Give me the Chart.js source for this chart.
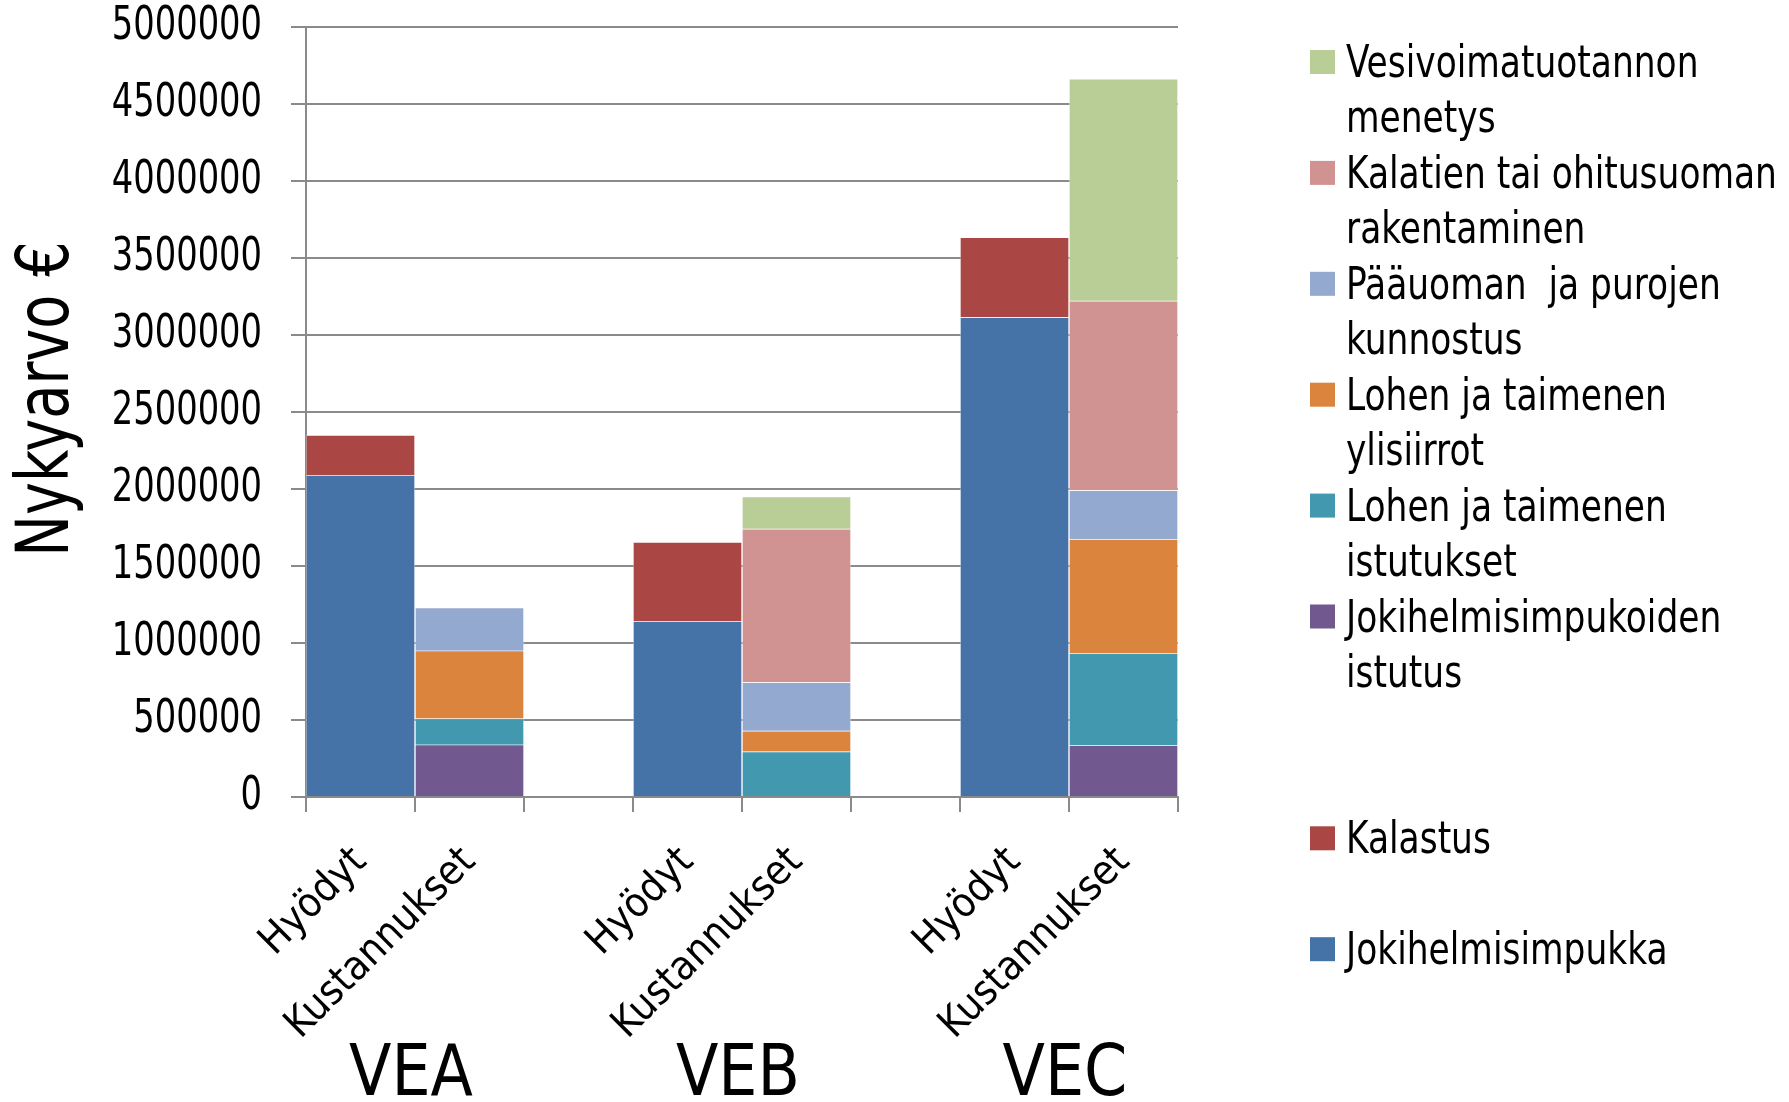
<!DOCTYPE html>
<html>
<head>
<meta charset="utf-8">
<script src="https://cdn.jsdelivr.net/npm/chart.js@4.4.0/dist/chart.umd.min.js"></script>
<style>
  html, body { margin: 0; padding: 0; background: #fff; }
  canvas { display: block; }
</style>
</head>
<body>
<canvas id="myChart" width="1789" height="1102"></canvas>
<script>
// categories: two bars per alternative, empty slot between the groups
const categories = ['Hyödyt', 'Kustannukset', '', 'Hyödyt', 'Kustannukset', '', 'Hyödyt', 'Kustannukset'];
const groups = ['VEA', 'VEB', 'VEC'];
const groupStart = [0, 3, 6];

const yMax = 5000000;
const yStep = 500000;
const yTitle = 'Nykyarvo €';

// series, bottom of the stack first
const jokihelmisimpukka = [2090000, null, null, 1140000, null, null, 3115000, null];
const kalastus          = [260000, null, null, 515000, null, null, 520000, null];
const jokihelmiIstutus  = [null, 340000, null, null, null, null, null, 335000];
const lohiIstutukset    = [null, 170000, null, null, 295000, null, null, 600000];
const lohiYlisiirrot    = [null, 440000, null, null, 135000, null, null, 740000];
const kunnostus         = [null, 280000, null, null, 315000, null, null, 317000];
const kalatie           = [null, null, null, null, 997000, null, null, 1230000];
const vesivoima         = [null, null, null, null, 208000, null, null, 1442000];

const seriesNames = [
    ['Jokihelmisimpukka'],
    ['Kalastus'],
    ['Jokihelmisimpukoiden', 'istutus'],
    ['Lohen ja taimenen', 'istutukset'],
    ['Lohen ja taimenen', 'ylisiirrot'],
    ['Pääuoman  ja purojen', 'kunnostus'],
    ['Kalatien tai ohitusuoman', 'rakentaminen'],
    ['Vesivoimatuotannon', 'menetys']
];
const seriesValues = [jokihelmisimpukka, kalastus, jokihelmiIstutus, lohiIstutukset,
                      lohiYlisiirrot, kunnostus, kalatie, vesivoima];
const seriesColors = ['#4572A7', '#AA4643', '#71588F', '#4198AF',
                      '#DB843D', '#93A9CF', '#D19392', '#B9CD96'];

const FONT = '"Liberation Sans Narrow", "Arial Narrow", "DejaVu Sans Condensed", sans-serif';
const GRID = '#8a8a8a';

Chart.defaults.font.family = FONT;
Chart.defaults.color = '#000';

// draws text squeezed horizontally (the original uses a narrow font)
function narrowText(ctx, text, x, y, sx, rot) {
    ctx.save();
    ctx.translate(x, y);
    if (rot) ctx.rotate(rot);
    ctx.scale(sx, 1);
    ctx.fillText(text, 0, 0);
    ctx.restore();
}

// y tick labels and axis title, placed from the y scale
const yLabels = {
    id: 'yLabels',
    afterDraw(chart) {
        const ctx = chart.ctx;
        const y = chart.scales.y;
        ctx.save();
        ctx.fillStyle = '#000';
        ctx.font = '46px ' + FONT;
        ctx.textAlign = 'right';
        ctx.textBaseline = 'middle';
        y.ticks.forEach(t => {
            narrowText(ctx, String(t.value), y.right - 44, y.getPixelForValue(t.value), 0.815);
        });
        ctx.font = '73px ' + FONT;
        ctx.textAlign = 'center';
        narrowText(ctx, yTitle, 49, (y.top + y.bottom) / 2 - 13, 0.85, -Math.PI / 2);
        ctx.restore();
    }
};

// legend on the right, drawn in reverse stack order like the original
const sideLegend = {
    id: 'sideLegend',
    afterDraw(chart, args, opts) {
        const ctx = chart.ctx;
        const items = chart.data.datasets.slice().reverse();
        let line = 0;
        ctx.save();
        ctx.font = opts.fontSize + 'px ' + FONT;
        ctx.textAlign = 'left';
        ctx.textBaseline = 'alphabetic';
        items.forEach((ds, i) => {
            line += opts.gapBefore[i] || 0;
            const base = opts.y0 + line * opts.step;
            ctx.fillStyle = ds.backgroundColor;
            ctx.fillRect(opts.x, base - 27, 25, 24);
            ctx.fillStyle = '#000';
            ds.legendLines.forEach((t, k) => {
                narrowText(ctx, t, opts.x + 36, base + k * opts.step, 0.87);
            });
            line += ds.legendLines.length;
        });
        ctx.restore();
    }
};

// big VEA / VEB / VEC labels under each pair of bars
const groupLabels = {
    id: 'groupLabels',
    afterDraw(chart) {
        const ctx = chart.ctx;
        const x = chart.scales.x;
        ctx.save();
        ctx.font = '71px ' + FONT;
        ctx.fillStyle = '#000';
        ctx.textAlign = 'center';
        ctx.textBaseline = 'alphabetic';
        groups.forEach((g, i) => {
            const a = x.getPixelForValue(groupStart[i]);
            const b = x.getPixelForValue(groupStart[i] + 1);
            narrowText(ctx, g, (a + b) / 2 - 4, x.bottom - 7, 0.97);
        });
        ctx.restore();
    }
};

const ctx = document.getElementById('myChart').getContext('2d');

const myChart = new Chart(ctx, {
    type: 'bar',
    data: {
        labels: categories,
        datasets: seriesValues.map((vals, i) => ({
            label: seriesNames[i].join(' '),
            legendLines: seriesNames[i],
            data: vals,
            backgroundColor: seriesColors[i],
            borderColor: 'rgba(255,255,255,0.35)',
            borderWidth: 1
        }))
    },
    options: {
        responsive: false,
        animation: false,
        layout: { padding: { top: 27, right: 611, bottom: 0, left: 0 } },
        datasets: { bar: { categoryPercentage: 1, barPercentage: 1 } },
        plugins: {
            legend: { display: false },
            tooltip: { enabled: false },
            sideLegend: {
                x: 1310,
                y0: 77,
                step: 55.45,
                fontSize: 44,
                gapBefore: [0, 0, 0, 0, 0, 0, 2, 1]
            }
        },
        scales: {
            x: {
                stacked: true,
                grid: { drawOnChartArea: false, color: GRID, lineWidth: 2, tickLength: 15, offset: true },
                border: { color: GRID, width: 2 },
                ticks: { font: { size: 41 }, minRotation: 45, maxRotation: 45, autoSkip: false, padding: 26 },
                afterFit: s => { s.height = 305; }
            },
            y: {
                stacked: true,
                min: 0,
                max: yMax,
                ticks: { stepSize: yStep, display: false },
                grid: { color: GRID, lineWidth: 2, tickLength: 15 },
                border: { color: GRID, width: 2 },
                afterFit: s => { s.width = 306; }
            }
        }
    },
    plugins: [yLabels, sideLegend, groupLabels]
});
</script>
</body>
</html>
